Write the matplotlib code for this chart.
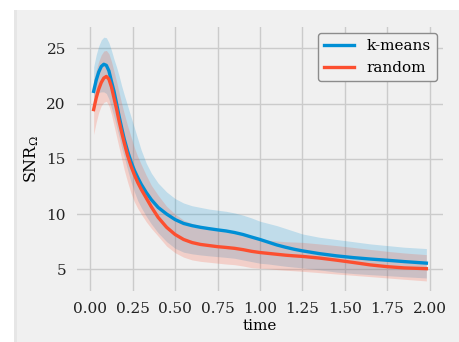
import matplotlib
matplotlib.use("Agg")
import matplotlib.pyplot as plt
from matplotlib.patches import Rectangle

# time grid
time = [0.02, 0.035, 0.05, 0.065, 0.08, 0.095, 0.11, 0.125, 0.14, 0.155,
        0.17, 0.185, 0.2, 0.22, 0.24, 0.26, 0.28, 0.3, 0.33, 0.36,
        0.4, 0.45, 0.5, 0.55, 0.6, 0.65, 0.7, 0.75, 0.8, 0.85,
        0.9, 0.95, 1.0, 1.05, 1.1, 1.15, 1.2, 1.25, 1.35, 1.45,
        1.55, 1.65, 1.75, 1.85, 1.98]

kmeans_mean = [21.1, 22.1, 22.85, 23.35, 23.55, 23.45, 22.95, 22.0, 21.1, 20.0,
               18.85, 17.8, 16.8, 15.7, 14.75, 13.95, 13.3, 12.7, 11.95, 11.3,
               10.6, 10.0, 9.5, 9.15, 8.95, 8.8, 8.68, 8.57, 8.47, 8.33,
               8.15, 7.92, 7.7, 7.45, 7.2, 7.0, 6.82, 6.67, 6.42, 6.22,
               6.06, 5.93, 5.82, 5.7, 5.56]
kmeans_upper = [23.3, 24.4, 25.2, 25.75, 26.0, 25.95, 25.5, 24.8, 24.0, 23.3,
                22.5, 21.6, 20.8, 19.8, 18.8, 17.8, 16.8, 15.8, 14.6, 13.7,
                12.8, 12.0, 11.4, 11.0, 10.75, 10.6, 10.45, 10.35, 10.25, 10.1,
                9.9, 9.65, 9.35, 9.15, 8.95, 8.7, 8.45, 8.2, 7.9, 7.7,
                7.5, 7.3, 7.15, 7.0, 6.88]
kmeans_lower = [20.6, 20.8, 21.0, 21.05, 21.05, 20.9, 20.4, 19.6, 18.8, 17.9,
                17.0, 16.0, 15.2, 14.0, 12.9, 12.0, 11.2, 10.6, 9.8, 9.1,
                8.3, 7.5, 6.9, 6.55, 6.4, 6.3, 6.22, 6.15, 6.08, 6.0,
                5.85, 5.7, 5.55, 5.48, 5.38, 5.28, 5.2, 5.13, 4.95, 4.75,
                4.62, 4.52, 4.43, 4.33, 4.22]

random_mean = [19.45, 20.5, 21.3, 21.9, 22.3, 22.45, 22.2, 21.5, 20.5, 19.5,
               18.4, 17.4, 16.45, 15.3, 14.35, 13.55, 12.85, 12.25, 11.45, 10.65,
               9.7, 8.8, 8.15, 7.7, 7.42, 7.25, 7.15, 7.05, 6.98, 6.9,
               6.78, 6.63, 6.52, 6.44, 6.36, 6.28, 6.22, 6.17, 6.02, 5.83,
               5.62, 5.4, 5.24, 5.13, 5.06]
random_upper = [22.1, 23.0, 23.8, 24.4, 24.75, 24.8, 24.5, 23.8, 22.9, 22.0,
                21.0, 20.0, 19.1, 18.0, 17.0, 16.0, 15.2, 14.5, 13.5, 12.6,
                11.7, 10.7, 10.0, 9.45, 9.15, 8.95, 8.75, 8.6, 8.45, 8.3,
                8.1, 7.88, 7.72, 7.63, 7.56, 7.5, 7.47, 7.44, 7.3, 7.15,
                6.98, 6.8, 6.63, 6.48, 6.33]
random_lower = [17.2, 18.3, 19.2, 19.8, 20.1, 20.2, 19.8, 19.0, 18.0, 17.0,
                16.0, 15.0, 14.0, 12.9, 11.9, 11.1, 10.5, 10.0, 9.3, 8.7,
                8.0, 7.1, 6.5, 6.1, 5.85, 5.72, 5.64, 5.56, 5.48, 5.42,
                5.3, 5.15, 5.1, 5.05, 4.98, 4.92, 4.87, 4.82, 4.7, 4.58,
                4.46, 4.34, 4.22, 4.1, 3.95]

x_ticks = [0.0, 0.25, 0.5, 0.75, 1.0, 1.25, 1.5, 1.75, 2.0]
y_ticks = [5, 10, 15, 20, 25]

BG = "#f0f0f0"
BLUE = "#008fd5"
RED = "#fc4f30"

plt.rcParams["font.family"] = ["DejaVu Serif"]
plt.rcParams["mathtext.fontset"] = "dejavuserif"

fig = plt.figure(figsize=(4.6, 3.42), dpi=100, facecolor="white")
# grey figure panel, offset like in the reference, with a slightly darker left edge
fig.patches.append(Rectangle((14 / 460, 0), 1 - 14 / 460, 332 / 342,
                             transform=fig.transFigure, facecolor=BG,
                             edgecolor="none", zorder=-10))
fig.patches.append(Rectangle((14 / 460, 0), 3 / 460, 332 / 342,
                             transform=fig.transFigure, facecolor="#e6e6e6",
                             edgecolor="none", zorder=-9))

ax = fig.add_axes([77 / 460, 1 - 291 / 342, (443 - 77) / 460, (291 - 27) / 342])
ax.set_facecolor(BG)
for s in ax.spines.values():
    s.set_visible(False)

ax.fill_between(time, kmeans_lower, kmeans_upper, color=BLUE, alpha=0.2, linewidth=0)
ax.fill_between(time, random_lower, random_upper, color=RED, alpha=0.2, linewidth=0)
ax.plot(time, kmeans_mean, color=BLUE, linewidth=2.4, label="k-means")
ax.plot(time, random_mean, color=RED, linewidth=2.4, label="random")

ax.set_xlim(-0.078, 2.078)
ax.set_ylim(3.04, 26.92)
ax.set_xticks(x_ticks)
ax.set_yticks(y_ticks)
ax.grid(True, color="#cbcbcb", linewidth=1)
ax.set_axisbelow(True)
ax.tick_params(length=0, labelsize=11, colors="#222222", pad=8)

ax.set_xlabel("time", fontsize=11, labelpad=2)
ax.set_ylabel(r"SNR$_\Omega$", fontsize=11.5, labelpad=4)

leg = ax.legend(loc="upper right", fontsize=11, facecolor=BG, edgecolor="#8c8c8c",
                framealpha=1, fancybox=True, handlelength=2, borderaxespad=0.4)
leg.get_frame().set_linewidth(1.0)

fig.savefig("out.png", dpi=100, facecolor="white")
